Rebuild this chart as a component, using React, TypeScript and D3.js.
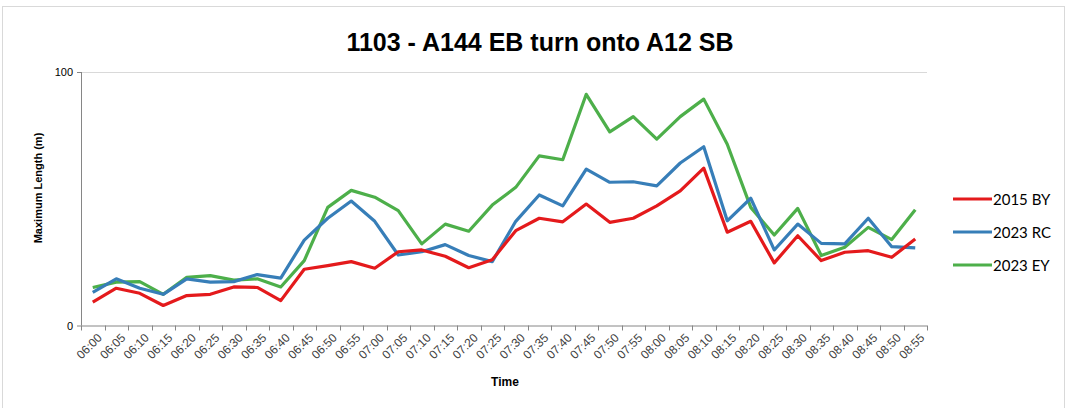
import { useRef, useEffect } from 'react';
import * as d3 from 'd3';

const times = [
  '06:00', '06:05', '06:10', '06:15', '06:20', '06:25', '06:30', '06:35', '06:40', '06:45', '06:50', '06:55',
  '07:00', '07:05', '07:10', '07:15', '07:20', '07:25', '07:30', '07:35', '07:40', '07:45', '07:50', '07:55',
  '08:00', '08:05', '08:10', '08:15', '08:20', '08:25', '08:30', '08:35', '08:40', '08:45', '08:50', '08:55',
];

const by2015 = [
  9.2, 14.7, 12.7, 7.9, 11.8, 12.3, 15.2, 15.0, 9.8, 22.2, 23.6, 25.2,
  22.6, 29.1, 29.8, 27.3, 22.8, 25.9, 37.4, 42.3, 40.9, 47.9, 40.7, 42.3,
  47.2, 53.1, 62.1, 36.8, 41.1, 24.7, 35.4, 25.6, 28.9, 29.5, 26.9, 34.1,
];
const rc2023 = [
  13.1, 18.4, 14.7, 12.3, 18.4, 17.1, 17.3, 20.1, 18.7, 33.7, 42.3, 49.1,
  41.1, 27.8, 29.1, 31.9, 27.6, 25.2, 41.1, 51.5, 47.2, 61.7, 56.5, 56.7,
  55.1, 64.1, 70.5, 41.3, 50.2, 29.8, 40.0, 32.4, 32.2, 42.3, 31.1, 30.6,
];
const ey2023 = [
  15.0, 17.1, 17.3, 12.3, 19.0, 19.7, 17.9, 18.4, 15.2, 25.6, 46.6, 53.3,
  50.6, 45.3, 32.2, 40.0, 37.2, 47.5, 54.5, 66.9, 65.4, 91.2, 76.4, 82.4,
  73.5, 82.4, 89.3, 71.5, 46.6, 35.7, 46.2, 27.6, 30.9, 38.7, 33.9, 45.7,
];

const seriesNames = ['2015 BY', '2023 RC', '2023 EY'];
const seriesColors = ['#e41a1c', '#377eb8', '#4daf4a'];
const yTicks = [0, 100];

const arial = 'Arial, "Liberation Sans", sans-serif';

export default function App() {
  const svgRef = useRef<SVGSVGElement>(null);

  useEffect(() => {
    if (!svgRef.current) return;
    const width = 1065;
    const height = 408;
    const svg = d3.select(svgRef.current);
    svg.selectAll('*').remove();
    svg.attr('width', width).attr('height', height);

    // chart border
    svg.append('rect')
      .attr('x', 2.5).attr('y', 6.5)
      .attr('width', width - 3).attr('height', height - 6)
      .attr('fill', '#fff').attr('stroke', '#d9d9d9');

    const margin = { top: 72, left: 81, right: 138, bottom: 82 };
    const innerW = width - margin.left - margin.right;
    const innerH = height - margin.top - margin.bottom - 0.5;
    const g = svg.append('g').attr('transform', `translate(${margin.left},${margin.top})`);

    const x = d3.scaleBand().domain(times).range([0, innerW]);
    const y = d3.scaleLinear().domain([0, 100]).range([innerH, 0]);

    // gridline at 100
    g.append('line')
      .attr('x1', 0).attr('x2', innerW)
      .attr('y1', y(100) + 0.5).attr('y2', y(100) + 0.5)
      .attr('stroke', '#d9d9d9');

    // y axis
    g.append('line')
      .attr('x1', 0.5).attr('x2', 0.5)
      .attr('y1', y(100)).attr('y2', y(0))
      .attr('stroke', '#868686');
    yTicks.forEach((t) => {
      g.append('line')
        .attr('x1', -4).attr('x2', 0)
        .attr('y1', y(t) + 0.5).attr('y2', y(t) + 0.5)
        .attr('stroke', '#868686');
      g.append('text')
        .attr('x', -8).attr('y', y(t) + 4)
        .attr('text-anchor', 'end')
        .attr('font-family', arial)
        .attr('font-size', '11px')
        .attr('fill', '#000')
        .text(t);
    });

    // x axis
    g.append('line')
      .attr('x1', 0).attr('x2', innerW)
      .attr('y1', innerH + 0.5).attr('y2', innerH + 0.5)
      .attr('stroke', '#868686');
    const bounds = times.map((t) => x(t) || 0).concat([innerW]);
    g.selectAll('.xtick')
      .data(bounds)
      .join('line')
      .attr('class', 'xtick')
      .attr('x1', (d) => Math.round(d) + 0.5).attr('x2', (d) => Math.round(d) + 0.5)
      .attr('y1', innerH).attr('y2', innerH + 5)
      .attr('stroke', '#868686');
    g.selectAll('.xlabel')
      .data(times)
      .join('text')
      .attr('class', 'xlabel')
      .attr('transform', (d) => `translate(${(x(d) || 0) + x.bandwidth() / 2 + 10},${innerH + 13}) rotate(-45)`)
      .attr('text-anchor', 'end')
      .attr('font-family', arial)
      .attr('font-size', '12px')
      .attr('fill', '#404040')
      .text((d) => d);

    // lines
    const allSeries = [by2015, rc2023, ey2023];
    const line = d3.line<number>()
      .x((_, i) => (x(times[i]) || 0) + x.bandwidth() / 2)
      .y((d) => y(d));
    [2, 1, 0].forEach((k) => {
      g.append('path')
        .datum(allSeries[k])
        .attr('d', line)
        .attr('fill', 'none')
        .attr('stroke', seriesColors[k])
        .attr('stroke-width', 3.2)
        .attr('stroke-linejoin', 'round');
    });

    // title
    svg.append('text')
      .attr('x', 540).attr('y', 51)
      .attr('text-anchor', 'middle')
      .attr('font-family', arial)
      .attr('font-size', '25px')
      .attr('font-weight', 'bold')
      .text('1103 - A144 EB turn onto A12 SB');

    // axis titles
    svg.append('text')
      .attr('x', 505).attr('y', 386)
      .attr('text-anchor', 'middle')
      .attr('font-family', arial)
      .attr('font-size', '12px')
      .attr('font-weight', 'bold')
      .text('Time');
    svg.append('text')
      .attr('transform', 'translate(42,188) rotate(-90)')
      .attr('text-anchor', 'middle')
      .attr('font-family', arial)
      .attr('font-size', '11px')
      .attr('font-weight', 'bold')
      .text('Maximum Length (m)');

    // legend
    const legend = svg.append('g').attr('transform', 'translate(953,199)');
    seriesNames.forEach((name, i) => {
      legend.append('line')
        .attr('x1', 0).attr('x2', 39)
        .attr('y1', i * 33).attr('y2', i * 33)
        .attr('stroke', seriesColors[i])
        .attr('stroke-width', 3);
      legend.append('text')
        .attr('x', 40).attr('y', i * 33 + 5.5)
        .attr('font-family', 'Lato, "Open Sans", sans-serif')
        .attr('font-size', '15px')
        .attr('fill', '#000')
        .text(name);
    });
  }, []);

  return (
    <div style={{ position: 'absolute', left: 0, top: 0 }}>
      <svg ref={svgRef} style={{ display: 'block' }} />
    </div>
  );
}
